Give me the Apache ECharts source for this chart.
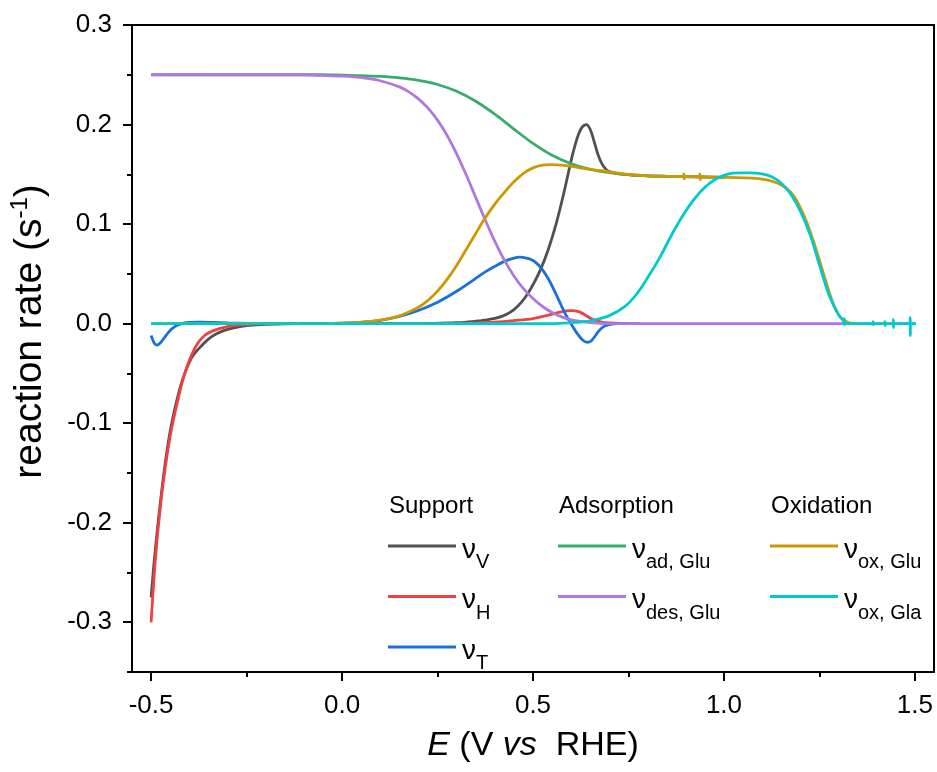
<!DOCTYPE html>
<html><head><meta charset="utf-8">
<script src="https://cdn.jsdelivr.net/npm/echarts@6/dist/echarts.min.js"></script>
<style>html,body{margin:0;padding:0;background:#fff}#c{width:937px;height:772px}</style>
</head><body><div id="c"></div>
<script>
// ---- data (E in V vs RHE, rate in s^-1) ----
const nuV = [[-0.5,-0.275],[-0.495,-0.252],[-0.49,-0.231],[-0.485,-0.212],[-0.48,-0.194],[-0.47,-0.161],[-0.46,-0.132],[-0.45,-0.108],[-0.44,-0.089],[-0.43,-0.073],[-0.42,-0.059],[-0.41,-0.048],[-0.40,-0.039],[-0.39,-0.032],[-0.37,-0.023],[-0.35,-0.0155],[-0.33,-0.0105],[-0.31,-0.007],[-0.28,-0.004],[-0.25,-0.002],[-0.2,-0.0007],[-0.1,0],[0.2,0],[0.28,0.0006],[0.30,0.0009],[0.32,0.0013],[0.34,0.0019],[0.36,0.0028],[0.38,0.0038],[0.40,0.0052],[0.42,0.0075],[0.44,0.0113],[0.46,0.0175],[0.48,0.0265],[0.50,0.039],[0.52,0.0545],[0.54,0.0745],[0.56,0.0995],[0.58,0.13],[0.60,0.164],[0.61,0.179],[0.62,0.191],[0.63,0.198],[0.64,0.2],[0.65,0.195],[0.66,0.183],[0.67,0.17],[0.68,0.161],[0.69,0.1555],[0.70,0.1528],[0.72,0.1508],[0.74,0.15],[0.765,0.149],[0.8,0.1485],[0.85,0.148],[0.94,0.1474],[1.0,0.147]];
const nuH = [[-0.5,-0.30],[-0.495,-0.27],[-0.49,-0.243],[-0.485,-0.22],[-0.48,-0.2],[-0.47,-0.165],[-0.46,-0.137],[-0.45,-0.113],[-0.44,-0.094],[-0.43,-0.077],[-0.42,-0.061],[-0.41,-0.048],[-0.40,-0.037],[-0.38,-0.021],[-0.36,-0.012],[-0.34,-0.0075],[-0.3,-0.003],[-0.25,-0.001],[-0.2,0],[0.3,0],[0.35,0.0008],[0.4,0.0015],[0.45,0.003],[0.5,0.005],[0.54,0.0085],[0.57,0.0115],[0.6,0.013],[0.62,0.012],[0.635,0.009],[0.65,0.0055],[0.665,0.003],[0.68,0.0015],[0.7,0.0007],[0.73,0.0002],[0.78,0]];
const nuT = [[-0.5,-0.012],[-0.495,-0.017],[-0.49,-0.0205],[-0.484,-0.0215],[-0.475,-0.019],[-0.465,-0.014],[-0.455,-0.009],[-0.445,-0.005],[-0.43,-0.0015],[-0.415,0.0005],[-0.40,0.0012],[-0.37,0.0015],[-0.34,0.0012],[-0.30,0.0007],[-0.25,0.0002],[-0.2,0],[-0.05,0],[0.0,0.0002],[0.05,0.0012],[0.1,0.0033],[0.15,0.0072],[0.2,0.0132],[0.25,0.0215],[0.3,0.0325],[0.35,0.0455],[0.375,0.052],[0.4,0.0575],[0.425,0.0625],[0.45,0.0658],[0.465,0.0667],[0.48,0.0661],[0.495,0.0643],[0.51,0.0605],[0.525,0.054],[0.54,0.045],[0.555,0.034],[0.57,0.0215],[0.585,0.0095],[0.6,-0.0005],[0.615,-0.0095],[0.63,-0.0165],[0.642,-0.0187],[0.652,-0.0175],[0.662,-0.0128],[0.672,-0.0075],[0.685,-0.003],[0.70,-0.001],[0.72,0],[0.75,0]];
const nuAdGlu = [[-0.5,0.25],[-0.05,0.25],[0.0,0.2496],[0.05,0.2492],[0.1,0.2483],[0.15,0.2468],[0.2,0.2443],[0.25,0.2402],[0.3,0.2334],[0.35,0.2234],[0.4,0.2104],[0.45,0.1955],[0.5,0.181],[0.55,0.1691],[0.6,0.1606],[0.65,0.155],[0.7,0.1516],[0.75,0.1496],[0.8,0.1485],[0.85,0.148],[0.94,0.1474],[1.0,0.147]];
const nuDesGlu = [[-0.5,0.25],[-0.1,0.2498],[-0.05,0.2493],[0.0,0.2486],[0.05,0.2471],[0.1,0.244],[0.15,0.2378],[0.175,0.2328],[0.2,0.2258],[0.225,0.2165],[0.25,0.2044],[0.275,0.1891],[0.3,0.1706],[0.325,0.1495],[0.35,0.1268],[0.375,0.1041],[0.4,0.0826],[0.425,0.0638],[0.45,0.0479],[0.475,0.0352],[0.5,0.0252],[0.525,0.0172],[0.55,0.0112],[0.575,0.0068],[0.6,0.0038],[0.65,0.001],[0.7,0],[1.5,0]];
const nuOxGlu = [[-0.5,0],[-0.05,0],[0.0,0.0007],[0.05,0.0016],[0.1,0.0035],[0.15,0.0078],[0.2,0.0164],[0.225,0.0233],[0.25,0.0326],[0.275,0.0444],[0.3,0.0584],[0.325,0.0744],[0.35,0.0906],[0.375,0.1063],[0.4,0.1201],[0.425,0.1317],[0.45,0.1425],[0.475,0.151],[0.5,0.1565],[0.525,0.1592],[0.55,0.1598],[0.575,0.1592],[0.6,0.158],[0.65,0.155],[0.7,0.1525],[0.75,0.1498],[0.8,0.1485],[0.85,0.148],[0.894,0.1478],[0.895,0.1505],[0.896,0.1455],[0.897,0.1477],[0.936,0.1474],[0.937,0.1505],[0.938,0.1445],[0.939,0.1474],[1.0,0.147],[1.05,0.1465],[1.1,0.1452],[1.13,0.1425],[1.16,0.137],[1.185,0.127],[1.21,0.108],[1.235,0.082],[1.26,0.051],[1.285,0.021],[1.3,0.009],[1.315,0.0032],[1.33,0.0005],[1.35,0]];
const nuOxGla = [[-0.5,0],[0.55,0],[0.6,0.001],[0.65,0.0028],[0.7,0.008],[0.74,0.017],[0.77,0.029],[0.8,0.046],[0.83,0.065],[0.86,0.087],[0.89,0.107],[0.92,0.124],[0.95,0.137],[0.98,0.1455],[1.01,0.1502],[1.04,0.1515],[1.07,0.1515],[1.1,0.1505],[1.125,0.1475],[1.15,0.141],[1.175,0.13],[1.2,0.113],[1.225,0.09],[1.25,0.059],[1.275,0.029],[1.3,0.009],[1.312,0.003],[1.3145,0.001],[1.315,0.005],[1.3155,-0.001],[1.32,0],[1.39,0],[1.3905,0.002],[1.391,-0.001],[1.392,0],[1.421,0],[1.4215,0.002],[1.422,-0.002],[1.423,0],[1.443,0],[1.4435,0.004],[1.444,-0.004],[1.445,0],[1.487,0],[1.4875,0.006],[1.488,-0.012],[1.4885,0],[1.503,0]];

const xMajorTicks = [-0.5, 0, 0.5, 1.0, 1.5];
const xMinorTicks = [-0.25, 0.25, 0.75, 1.25];
const yMajorTicks = [-0.3, -0.2, -0.1, 0, 0.1, 0.2, 0.3];
const yMinorTicks = [-0.35, -0.25, -0.15, -0.05, 0.05, 0.15, 0.25];

const seriesNames = ['vV','vH','vT','vAd','vDes','vOxGlu','vOxGla'];
const seriesColors = ['#515151','#F14040','#1A6FDF','#37AD6B','#B177DE','#CC9900','#00CBCC'];
const seriesData = [nuV, nuH, nuT, nuAdGlu, nuDesGlu, nuOxGlu, nuOxGla];
const legendSubs = {vV:'V', vH:'H', vT:'T', vAd:'ad, Glu', vDes:'des, Glu', vOxGlu:'ox, Glu', vOxGla:'ox, Gla'};
const groupTitles = ['Support','Adsorption','Oxidation'];
const groupMembers = [['vV','vH','vT'],['vAd','vDes'],['vOxGlu','vOxGla']];

const FONT = "'Liberation Sans', Arial, Helvetica, sans-serif";
const chart = echarts.init(document.getElementById('c'), null, {renderer:'canvas'});

const legendLeft = [388, 558, 770];
const legendRich = {
  n: {fontSize: 28, fontFamily: FONT, color: '#000', padding: [8,0,0,0]},
  s: {fontSize: 20, fontFamily: FONT, color: '#000', padding: [33,0,0,0]}
};
const legends = groupMembers.map((m, i) => ({
  data: m,
  left: legendLeft[i],
  top: 536,
  orient: 'vertical',
  padding: 0,
  icon: 'rect',
  itemWidth: 68,
  itemHeight: 3,
  itemGap: 14,
  selectedMode: false,
  formatter: name => '{n|ν}{s|' + legendSubs[name] + '}',
  textStyle: {rich: legendRich, padding: [0,0,0,1]}
}));

const axisLineStyle = {color: '#000', width: 2};
const option = {
  animation: false,
  backgroundColor: '#fff',
  grid: {left: 132, right: 3, top: 25, bottom: 100, show: true, borderColor: '#000', borderWidth: 2, backgroundColor: 'transparent'},
  xAxis: [
    {type: 'value', min: -0.55, max: 1.55, position: 'bottom',
     axisLine: {show: true, onZero: false, lineStyle: axisLineStyle},
     axisTick: {show: true, inside: false, length: 9, lineStyle: {color:'#000', width: 2}, customValues: xMajorTicks},
     axisLabel: {show: true, customValues: xMajorTicks, margin: 21, fontSize: 26, fontFamily: FONT, color: '#000', formatter: v => v.toFixed(1)},
     splitLine: {show: false},
     name: '{i|E} (V {i|vs}  RHE)', nameLocation: 'middle', nameGap: 57,
     nameTextStyle: {fontSize: 34, fontFamily: FONT, color: '#000', rich: {i: {fontSize: 34, fontStyle: 'italic', fontFamily: FONT, color: '#000'}}}
    },
    {type: 'value', min: -0.55, max: 1.55, position: 'bottom',
     axisLine: {show: false, onZero: false},
     axisTick: {show: true, inside: false, length: 5, lineStyle: {color:'#000', width: 2}, customValues: xMinorTicks},
     axisLabel: {show: false}, splitLine: {show: false}
    }
  ],
  yAxis: [
    {type: 'value', min: -0.35, max: 0.3, position: 'left',
     axisLine: {show: true, onZero: false, lineStyle: axisLineStyle},
     axisTick: {show: true, inside: false, length: 9, lineStyle: {color:'#000', width: 2}, customValues: yMajorTicks},
     axisLabel: {show: true, customValues: yMajorTicks, margin: 20, fontSize: 26, fontFamily: FONT, color: '#000', formatter: v => v.toFixed(1)},
     splitLine: {show: false},
     name: '{a|reaction rate (s}{b|-1}{a|)}', nameLocation: 'middle', nameGap: 80, nameRotate: 90,
     nameTextStyle: {padding: [0,0,0,34], rich: {a: {fontSize: 39, fontFamily: FONT, color: '#000'}, b: {fontSize: 24, fontFamily: FONT, color: '#000', padding: [0,0,20,0]}}}
    },
    {type: 'value', min: -0.35, max: 0.3, position: 'left',
     axisLine: {show: false, onZero: false},
     axisTick: {show: true, inside: false, length: 5, lineStyle: {color:'#000', width: 2}, customValues: yMinorTicks},
     axisLabel: {show: false}, splitLine: {show: false}
    }
  ],
  legend: legends,
  graphic: groupTitles.map((t, i) => ({
    type: 'text', left: legendLeft[i] + 1, top: 494,
    style: {text: t, font: '24px ' + FONT, fill: '#000'}
  })),
  series: seriesNames.map((n, i) => ({
    name: n, type: 'line', xAxisIndex: 0, yAxisIndex: 0,
    data: seriesData[i], symbol: 'none', showSymbol: false,
    smooth: 0.35,
    lineStyle: {color: seriesColors[i], width: 2.8},
    itemStyle: {color: seriesColors[i]},
    emphasis: {disabled: true}
  }))
};
chart.setOption(option);
</script>
</body></html>
